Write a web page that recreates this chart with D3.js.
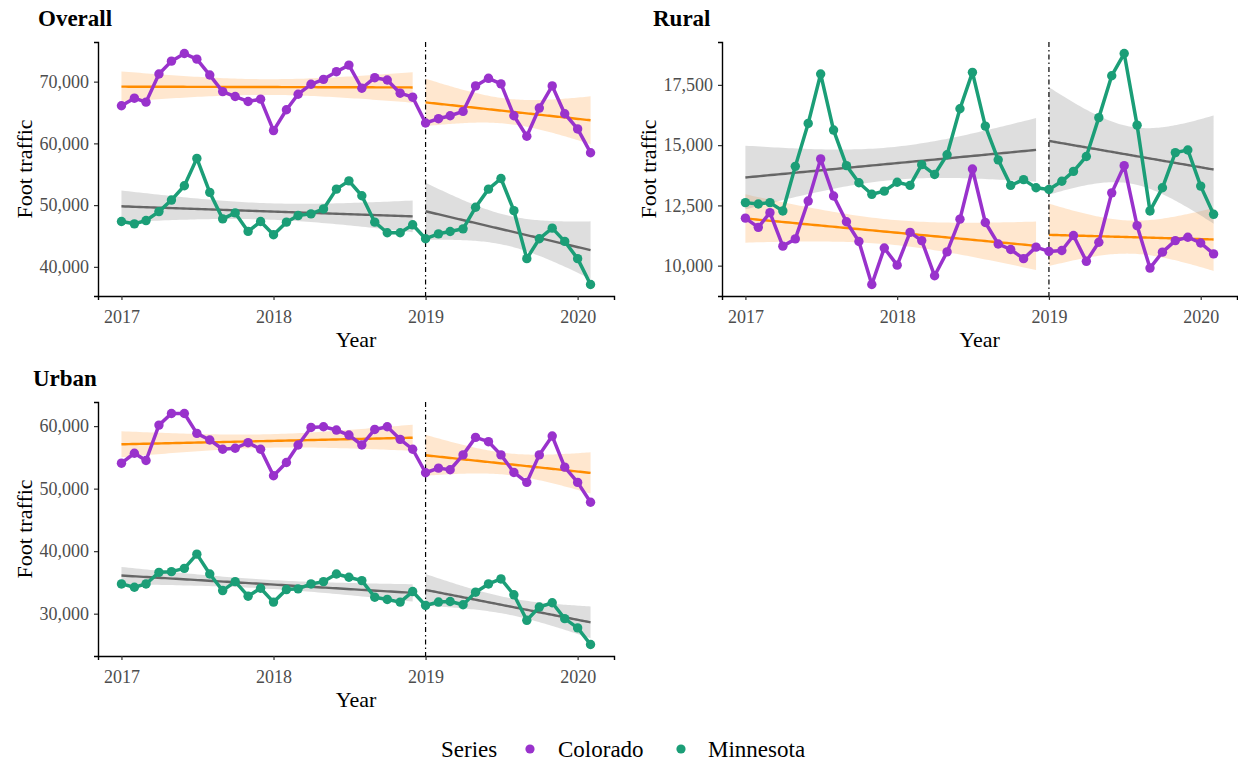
<!DOCTYPE html>
<html><head><meta charset="utf-8">
<script src="https://cdn.jsdelivr.net/npm/d3@7"></script>
<style>
body{margin:0;background:#fff}
svg{display:block}
text{font-family:"Liberation Serif","Times New Roman",serif}
</style>
</head><body>
<svg id="chart" width="1238" height="765"></svg>
<script>
// ---------- data ----------
const months = ["2017-01","2017-02","2017-03","2017-04","2017-05","2017-06","2017-07","2017-08","2017-09","2017-10","2017-11","2017-12",
  "2018-01","2018-02","2018-03","2018-04","2018-05","2018-06","2018-07","2018-08","2018-09","2018-10","2018-11","2018-12",
  "2019-01","2019-02","2019-03","2019-04","2019-05","2019-06","2019-07","2019-08","2019-09","2019-10","2019-11","2019-12",
  "2020-01","2020-02"];

const overallColorado = [66090,67320,66680,71230,73320,74550,73640,71070,68390,67590,66790,67160,
  62070,65450,67960,69570,70370,71610,72680,68930,70640,70270,68130,67480,
  63300,64000,64480,65180,69310,70540,69630,64480,61160,65720,69310,64800,62340,58490];
const overallMinnesota = [47340,46970,47500,48950,50820,53130,57570,52060,47770,48740,45740,47340,
  45200,47240,48310,48580,49380,52590,53930,51520,47240,45520,45520,46810,
  44560,45350,45720,46160,49650,52590,54310,49100,41330,44550,46270,44120,41330,37150];

const ruralColorado = [11970,11590,12200,10810,11110,12680,14430,12890,11820,11000,9220,10730,
  10020,11380,11040,9580,10570,11930,14010,11790,10900,10670,10290,10770,
  10590,10630,11250,10180,10970,13020,14150,11660,9900,10560,11040,11180,10940,10490];
const ruralMinnesota = [12615,12560,12615,12270,14120,15900,17950,15625,14150,13440,12960,13090,
  13460,13330,14190,13780,14600,16510,18020,15790,14390,13330,13570,13230,
  13160,13500,13910,14530,16140,17880,18800,15830,12270,13230,14690,14800,13300,12130];

const urbanColorado = [54070,55660,54500,60160,62010,62010,58840,57780,56300,56460,57350,56300,
  52060,54180,56980,59790,59890,59370,58570,56980,59470,59890,57880,56300,
  52540,53280,53020,55400,58200,57510,55400,52590,51000,55400,58410,53440,51000,47830];
const urbanMinnesota = [34760,34230,34760,36610,36720,37250,39520,36350,33700,35130,32800,34070,
  31850,33860,33970,34760,35130,36350,35820,35290,32640,32280,31850,33540,
  31320,31860,31950,31430,33440,34760,35560,33020,28940,31060,31750,29210,27730,25080];

const xTickYears = [2017, 2018, 2019, 2020];
const overallTicks = [40000, 50000, 60000, 70000];
const ruralTicks = [10000, 12500, 15000, 17500];
const urbanTicks = [30000, 40000, 50000, 60000];
const breakMonth = "2019-01";
const seriesNames = ["Colorado", "Minnesota"];

// ---------- styles ----------
const pointColor = {Colorado: "#9932CC", Minnesota: "#1B9E77"};
const trendColor = {Colorado: "#FF8C00", Minnesota: "#666666"};
const bandColor  = {Colorado: "#FFA040", Minnesota: "#9A9A9A"};
const bandOpacity = {Colorado: 0.25, Minnesota: 0.33};

const panels = [
  {title: "Overall", co: overallColorado, mn: overallMinnesota, ticks: overallTicks,
   x0: 98, x1: 614, y0: 42, y1: 296, titleX: 38, titleY: 26},
  {title: "Rural", co: ruralColorado, mn: ruralMinnesota, ticks: ruralTicks,
   x0: 722, x1: 1237, y0: 42, y1: 296, titleX: 653, titleY: 26},
  {title: "Urban", co: urbanColorado, mn: urbanMinnesota, ticks: urbanTicks,
   x0: 98, x1: 614, y0: 402, y1: 656, titleX: 33, titleY: 386}
];

const parse = d3.timeParse("%Y-%m");
const dates = months.map(parse);
const breakDate = parse(breakMonth);
const dayNum = d => d.getTime() / 864e5;

function tQuant(df) {
  const z = 1.959964;
  const z3 = z*z*z, z5 = z3*z*z, z7 = z5*z*z;
  return z + (z3 + z)/(4*df) + (5*z5 + 16*z3 + 3*z)/(96*df*df) + (3*z7 + 19*z5 + 17*z3 - 15*z)/(384*df*df*df);
}

function lmBand(ds, ys) {
  const xs = ds.map(dayNum);
  const n = xs.length;
  const mx = d3.mean(xs), my = d3.mean(ys);
  let sxx = 0, sxy = 0;
  xs.forEach((x, i) => { sxx += (x-mx)*(x-mx); sxy += (x-mx)*(ys[i]-my); });
  const b = sxy / sxx, a = my - b*mx;
  let rss = 0;
  xs.forEach((x, i) => { const r = ys[i] - (a + b*x); rss += r*r; });
  const s = Math.sqrt(rss / (n-2));
  const t = tQuant(n-2);
  const out = [];
  const N = 80;
  for (let k = 0; k <= N; k++) {
    const x = xs[0] + (xs[n-1]-xs[0]) * k / N;
    const yh = a + b*x;
    const se = s * Math.sqrt(1/n + (x-mx)*(x-mx)/sxx);
    out.push({date: new Date(x*864e5), y: yh, lo: yh - t*se, hi: yh + t*se});
  }
  return out;
}

const svg = d3.select("#chart");
const fmt = d3.format(",");

panels.forEach(p => {
  const g = svg.append("g");
  const span = dates[dates.length-1] - dates[0];
  const x = d3.scaleTime()
    .domain([new Date(+dates[0] - 0.05*span), new Date(+dates[dates.length-1] + 0.05*span)])
    .range([p.x0, p.x1]);
  const all = p.co.concat(p.mn);
  const mn = d3.min(all), mxv = d3.max(all), ex = 0.05*(mxv - mn);
  const y = d3.scaleLinear().domain([mn - ex, mxv + ex]).range([p.y1, p.y0]);

  // bands + trend lines
  const segIdx = [[0, 23], [24, dates.length-1]];
  const area = d3.area().x(d => x(d.date)).y0(d => y(d.lo)).y1(d => y(d.hi));
  const tline = d3.line().x(d => x(d.date)).y(d => y(d.y));
  const series = [{name: "Colorado", vals: p.co}, {name: "Minnesota", vals: p.mn}];
  const fits = [];
  series.forEach(s => {
    segIdx.forEach(([i0, i1]) => {
      const band = lmBand(dates.slice(i0, i1+1), s.vals.slice(i0, i1+1));
      fits.push({name: s.name, band});
      g.append("path").attr("d", area(band))
        .attr("fill", bandColor[s.name]).attr("fill-opacity", bandOpacity[s.name]);
    });
  });
  fits.forEach(f => {
    g.append("path").attr("d", tline(f.band)).attr("fill", "none")
      .attr("stroke", trendColor[f.name]).attr("stroke-width", 2.4);
  });

  // vertical break line
  g.append("line").attr("x1", x(breakDate)).attr("x2", x(breakDate))
    .attr("y1", p.y0).attr("y2", p.y1)
    .attr("stroke", "#000").attr("stroke-width", 1.2).attr("stroke-dasharray", "5,3,1.5,3");

  // data lines + points
  const dline = d3.line().x((d, i) => x(dates[i])).y(d => y(d));
  series.forEach(s => {
    g.append("path").attr("d", dline(s.vals)).attr("fill", "none")
      .attr("stroke", pointColor[s.name]).attr("stroke-width", 3.5).attr("stroke-linejoin", "round");
    g.selectAll(null).data(s.vals).enter().append("circle")
      .attr("cx", (d, i) => x(dates[i])).attr("cy", d => y(d)).attr("r", 4.7)
      .attr("fill", pointColor[s.name]);
  });

  // axes
  const xAxis = d3.axisBottom(x)
    .tickValues(xTickYears.map(yr => new Date(yr, 0, 1)))
    .tickFormat(d3.timeFormat("%Y")).tickSizeOuter(0).tickSize(4).tickPadding(6);
  const xg = g.append("g").attr("transform", `translate(0,${p.y1})`).call(xAxis);
  const yAxis = d3.axisLeft(y).tickValues(p.ticks).tickFormat(fmt)
    .tickSizeOuter(0).tickSize(4).tickPadding(5);
  const yg = g.append("g").attr("transform", `translate(${p.x0},0)`).call(yAxis);
  [xg, yg].forEach(a => {
    a.select(".domain").attr("stroke", "#000").attr("stroke-width", 1.4);
    a.selectAll(".tick line").attr("stroke", "#333").attr("stroke-width", 1.2);
    a.selectAll(".tick text").attr("fill", "#4D4D4D").style("font-size", "18px")
      .style("font-family", '"Liberation Serif", serif');
  });
  xg.selectAll(".tick text").attr("dy", null).attr("y", 27);

  // titles
  g.append("text").attr("x", p.titleX).attr("y", p.titleY).text(p.title)
    .style("font-size", "23px").style("font-weight", "bold").attr("fill", "#000");
  g.append("text").attr("x", (p.x0 + p.x1)/2).attr("y", p.y1 + 51)
    .attr("text-anchor", "middle").style("font-size", "22px").text("Year");
  g.append("text")
    .attr("transform", `translate(${p.x0 - 66},${(p.y0 + p.y1)/2}) rotate(-90)`)
    .attr("text-anchor", "middle").style("font-size", "22px").text("Foot traffic");
});

// legend
const lg = svg.append("g");
lg.append("text").attr("x", 441).attr("y", 757).style("font-size", "23px").text("Series");
const legendPos = [{dot: 530, text: 558}, {dot: 681, text: 708}];
seriesNames.forEach((s, i) => {
  lg.append("circle").attr("cx", legendPos[i].dot).attr("cy", 749).attr("r", 4.6).attr("fill", pointColor[s]);
  lg.append("text").attr("x", legendPos[i].text).attr("y", 757).style("font-size", "23px").text(s);
});
</script>
</body></html>
